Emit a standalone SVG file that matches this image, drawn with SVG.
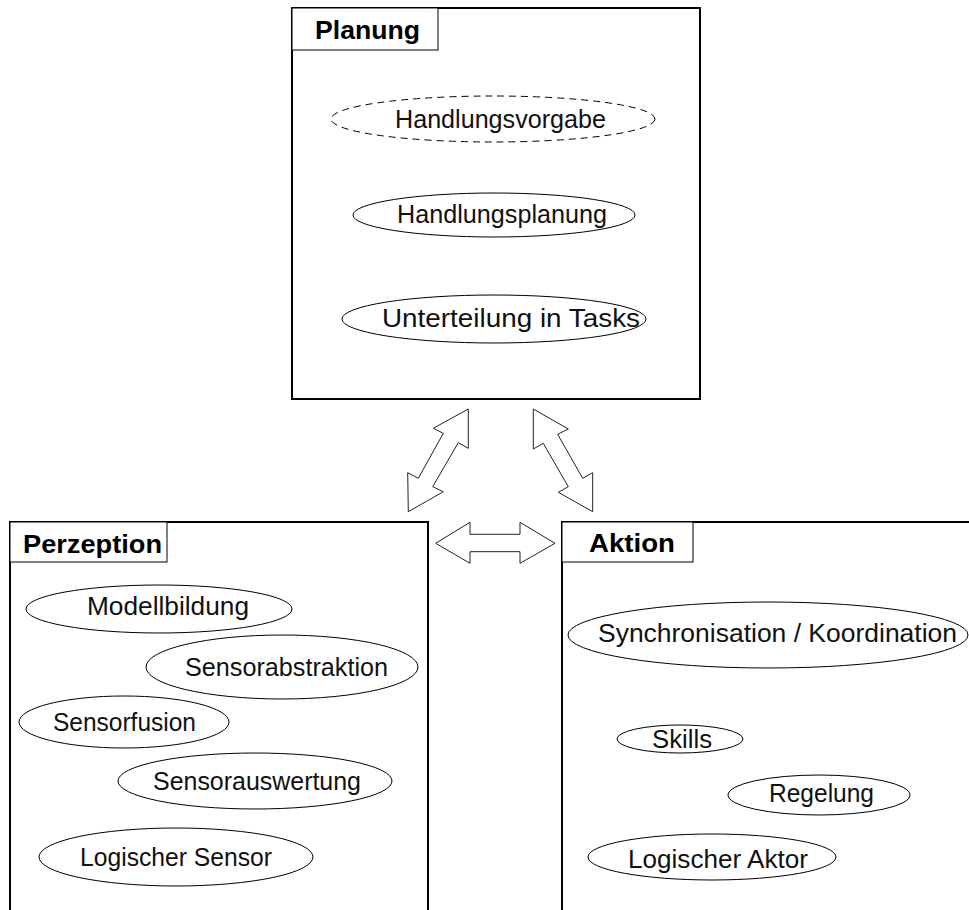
<svg xmlns="http://www.w3.org/2000/svg" width="969" height="910" viewBox="0 0 969 910">
  <style>
    .frame { fill: none; stroke: #000; stroke-width: 2; }
    .tab { fill: #fff; stroke: #000; stroke-width: 1; }
    .title { font-family: "Liberation Sans", Arial, sans-serif; font-size: 25px; font-weight: bold; fill: #000; }
    .item { fill: #fff; stroke: #000; stroke-width: 1; }
    .dashed { stroke-dasharray: 7 5; }
    .label { font-family: "Liberation Sans", Arial, sans-serif; font-size: 25px; fill: #111; }
    .arrow { fill: #fff; stroke: #222; stroke-width: 1; stroke-linejoin: miter; }
  </style>
  <rect width="969" height="910" fill="#fff"/>

  <!-- Planung -->
  <g id="planung">
    <rect class="frame" x="292" y="8" width="408" height="391"/>
    <rect class="tab" x="292" y="8" width="146" height="42"/>
    <text class="title" x="315" y="39" textLength="105" lengthAdjust="spacingAndGlyphs">Planung</text>
    <g id="handlungsvorgabe">
      <ellipse class="item dashed" cx="493" cy="119" rx="162" ry="23"/>
      <text class="label" x="395" y="128" textLength="211" lengthAdjust="spacingAndGlyphs">Handlungsvorgabe</text>
    </g>
    <g id="handlungsplanung">
      <ellipse class="item" cx="494" cy="215" rx="141" ry="22"/>
      <text class="label" x="397" y="223" textLength="210" lengthAdjust="spacingAndGlyphs">Handlungsplanung</text>
    </g>
    <g id="unterteilung">
      <ellipse class="item" cx="494" cy="319" rx="152" ry="24"/>
      <text class="label" x="382" y="327" textLength="258" lengthAdjust="spacingAndGlyphs">Unterteilung in Tasks</text>
    </g>
  </g>

  <!-- Perzeption -->
  <g id="perzeption">
    <rect class="frame" x="10" y="522" width="418" height="420"/>
    <rect class="tab" x="10" y="522" width="157" height="40"/>
    <text class="title" x="23" y="553" textLength="139" lengthAdjust="spacingAndGlyphs">Perzeption</text>
    <g id="modellbildung">
      <ellipse class="item" cx="159" cy="609" rx="133" ry="24"/>
      <text class="label" x="87" y="615" textLength="162" lengthAdjust="spacingAndGlyphs">Modellbildung</text>
    </g>
    <g id="sensorabstraktion">
      <ellipse class="item" cx="282" cy="667" rx="136" ry="32"/>
      <text class="label" x="185" y="676" textLength="203" lengthAdjust="spacingAndGlyphs">Sensorabstraktion</text>
    </g>
    <g id="sensorfusion">
      <ellipse class="item" cx="124" cy="722" rx="105" ry="26"/>
      <text class="label" x="53" y="731" textLength="143" lengthAdjust="spacingAndGlyphs">Sensorfusion</text>
    </g>
    <g id="sensorauswertung">
      <ellipse class="item" cx="255" cy="781" rx="137" ry="28"/>
      <text class="label" x="153" y="790" textLength="208" lengthAdjust="spacingAndGlyphs">Sensorauswertung</text>
    </g>
    <g id="logischer-sensor">
      <ellipse class="item" cx="176" cy="857" rx="137" ry="29"/>
      <text class="label" x="80" y="866" textLength="192" lengthAdjust="spacingAndGlyphs">Logischer Sensor</text>
    </g>
  </g>

  <!-- Aktion -->
  <g id="aktion">
    <rect class="frame" x="562" y="522" width="440" height="420"/>
    <rect class="tab" x="562" y="522" width="131" height="40"/>
    <text class="title" x="589" y="552" textLength="86" lengthAdjust="spacingAndGlyphs">Aktion</text>
    <g id="synchronisation">
      <ellipse class="item" cx="768" cy="635" rx="200" ry="33"/>
      <text class="label" x="598" y="642" textLength="359" lengthAdjust="spacingAndGlyphs">Synchronisation / Koordination</text>
    </g>
    <g id="skills">
      <ellipse class="item" cx="680" cy="739" rx="63" ry="14"/>
      <text class="label" x="652" y="748" textLength="60" lengthAdjust="spacingAndGlyphs">Skills</text>
    </g>
    <g id="regelung">
      <ellipse class="item" cx="819" cy="795" rx="91" ry="20"/>
      <text class="label" x="769" y="802" textLength="105" lengthAdjust="spacingAndGlyphs">Regelung</text>
    </g>
    <g id="logischer-aktor">
      <ellipse class="item" cx="712" cy="857" rx="124" ry="23"/>
      <text class="label" x="628" y="868" textLength="180" lengthAdjust="spacingAndGlyphs">Logischer Aktor</text>
    </g>
  </g>

  <!-- two-headed block arrows between the three areas -->
  <g id="connectors">
    <polygon class="arrow" points="468.3,409 433.3,428.3 443.3,433.3 418.3,478.3 407.7,472.7 408.3,511.7 443.3,491.7 432.7,486.7 458.3,442.7 468.3,448.3"/>
    <polygon class="arrow" points="533.3,409 568.3,429 557.7,434.3 582.7,478.3 592.7,472.7 592.7,511.7 558.3,492.3 568.3,486.7 543.3,443.3 533.3,449"/>
    <polygon class="arrow" points="435.7,543.3 470,522.3 470,534.3 520,534.3 520,522.3 555,543.3 520,563.3 520,551.7 470,551.7 470,563.3"/>
  </g>
</svg>
